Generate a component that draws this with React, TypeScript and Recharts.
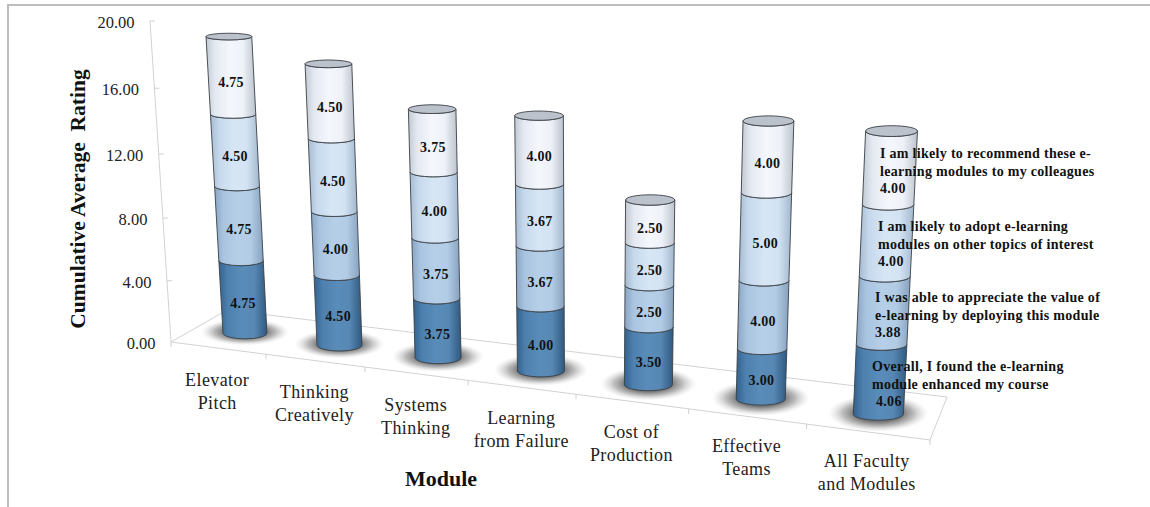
import React from "react";
import { BarChart, Bar, XAxis, YAxis } from "recharts";

const modules = [
  "Elevator\nPitch",
  "Thinking\nCreatively",
  "Systems\nThinking",
  "Learning\nfrom Failure",
  "Cost of\nProduction",
  "Effective\nTeams",
  "All Faculty\nand Modules",
];

const enhanced = [4.75, 4.5, 3.75, 4.0, 3.5, 3.0, 4.06];
const appreciate = [4.75, 4.0, 3.75, 3.67, 2.5, 4.0, 3.88];
const adopt = [4.5, 4.5, 4.0, 3.67, 2.5, 5.0, 4.0];
const recommend = [4.75, 4.5, 3.75, 4.0, 2.5, 4.0, 4.0];

const yTicks = [0, 4, 8, 12, 16, 20];

const seriesKeys = ["enhanced", "appreciate", "adopt", "recommend"];
const seriesValues = [enhanced, appreciate, adopt, recommend];

const statements = [
  ["Overall, I found the e-learning", "module enhanced my course"],
  ["I was able to appreciate the value of", "e-learning by deploying this module"],
  ["I am likely to adopt e-learning", "modules on other topics of interest"],
  ["I am likely to recommend these e-", "learning modules to my colleagues"],
];

const chartData = modules.map((module, i) => ({
  module,
  enhanced: enhanced[i],
  appreciate: appreciate[i],
  adopt: adopt[i],
  recommend: recommend[i],
}));

const WIDTH = 1150;
const HEIGHT = 507;
const SERIF = "'Liberation Serif', serif";

// flat plot rectangle Recharts lays the scales out in
const PLOT = { left: 100, right: 1050, top: 50, bottom: 457 };
const PLOT_W = PLOT.right - PLOT.left;
const PLOT_H = PLOT.bottom - PLOT.top;

// homography coefficients: flat plot -> tilted plane through the cylinder axes
const H = { a: 606.8, b: -27.8, c: 199, d: 35.1, e: -314.6, f: 327, g: -0.1419, h: -0.0473 };

function project(px: number, py: number) {
  const u = (px - PLOT.left) / PLOT_W;
  const v = (PLOT.bottom - py) / PLOT_H;
  const w = H.g * u + H.h * v + 1;
  return {
    x: (H.a * u + H.b * v + H.c) / w,
    y: (H.d * u + H.e * v + H.f) / w,
    u,
    v,
  };
}

// the value axis stands on its own wall, slightly foreshortened
function axisPoint(f: number) {
  const s = f / (f + (1 - f) * 1.06);
  return { x: 171 - 21 * s, y: 342 - 321 * s };
}

// floor corners
const FLOOR = { fl: [171, 342], fr: [930, 440], br: [947, 397], bl: [227, 310] };

function frontEdgePoint(u: number) {
  const W = 1 + H.g;
  const s = (u * W) / (1 - u + u * W);
  return {
    x: FLOOR.fl[0] + (FLOOR.fr[0] - FLOOR.fl[0]) * s,
    y: FLOOR.fl[1] + (FLOOR.fr[1] - FLOOR.fl[1]) * s,
  };
}

const halfWidth = (u: number, v: number) => (21.7 + 3.6 * u) * (1 + 0.045 * v);
const rimHeight = (u: number, v: number) => 6 + (3 + 2.4 * u - 6) * v;

// where the long statements of the last column start
const statementAnchors = [
  { x: 872, y: 371, valueX: 876 },
  { x: 875, y: 302, valueX: 875 },
  { x: 878, y: 231, valueX: 878 },
  { x: 880, y: 158, valueX: 880 },
];

function CylinderBand(props: any) {
  const { x, y, width, height, index, series } = props;
  const cx = x + width / 2;
  const bottom = project(cx, y + height);
  const top = project(cx, y);
  const hwB = halfWidth(bottom.u, bottom.v);
  const hwT = halfWidth(top.u, top.v);
  const ryB = rimHeight(bottom.u, bottom.v);
  const ryT = rimHeight(top.u, top.v);
  const d = [
    `M${top.x - hwT} ${top.y}`,
    `A${hwT} ${ryT} 0 0 0 ${top.x + hwT} ${top.y}`,
    `L${bottom.x + hwB} ${bottom.y}`,
    `A${hwB} ${ryB} 0 0 1 ${bottom.x - hwB} ${bottom.y}`,
    "Z",
  ].join(" ");
  const value = seriesValues[series][index];
  const mid = project(cx, y + height / 2);
  const isLast = index === modules.length - 1;
  const anchor = statementAnchors[series];
  const shadowRx = hwB * 2;
  const shadowRy = 13 + bottom.u * 6;

  return (
    <g>
      {series === 0 && (
        <ellipse cx={bottom.x} cy={bottom.y - 1} rx={shadowRx} ry={shadowRy} fill="url(#floorShadow)" />
      )}
      <path d={d} fill={`url(#band${series})`} stroke="#3a3f45" strokeWidth={0.9} />
      {series === seriesKeys.length - 1 && (
        <ellipse cx={top.x} cy={top.y} rx={hwT} ry={ryT} fill="#bcc2cb" stroke="#3a3f45" strokeWidth={0.9} />
      )}
      {isLast ? (
        <g fontFamily={SERIF} fontWeight="bold" fontSize={14} letterSpacing={0.3} fill="#111">
          {statements[series].map((line, k) => (
            <text key={k} x={anchor.x} y={anchor.y + k * 17.5}>
              {line}
            </text>
          ))}
          <text x={anchor.valueX} y={anchor.y + 35}>
            {value.toFixed(2)}
          </text>
        </g>
      ) : (
        <text
          x={mid.x}
          y={mid.y + 11}
          textAnchor="middle"
          fontFamily={SERIF}
          fontWeight="bold"
          fontSize={14}
          letterSpacing={0.3}
          fill="#111"
        >
          {value.toFixed(2)}
        </text>
      )}
    </g>
  );
}

function ModuleTick(props: any) {
  const { x, payload } = props;
  const base = project(x, PLOT.bottom);
  const bandwidth = PLOT_W / modules.length;
  const stub = frontEdgePoint((x + bandwidth / 2 - PLOT.left) / PLOT_W);
  const labelX = base.x - 29 + 19 * base.u;
  const labelY = base.y + 53;
  return (
    <g>
      <line x1={stub.x} y1={stub.y} x2={stub.x} y2={stub.y + 5} stroke="#cfcfcf" />
      {String(payload.value)
        .split("\n")
        .map((line, k) => (
          <text
            key={k}
            x={labelX}
            y={labelY + k * 23}
            textAnchor="middle"
            fontFamily={SERIF}
            fontSize={18}
            letterSpacing={0.4}
            fill="#222"
          >
            {line}
          </text>
        ))}
    </g>
  );
}

function RatingTick(props: any) {
  const { y, payload } = props;
  const p = axisPoint((PLOT.bottom - y) / PLOT_H);
  return (
    <g>
      {payload.value !== 0 && <line x1={p.x} y1={p.y} x2={p.x + 5} y2={p.y} stroke="#cfcfcf" />}
      <text x={p.x - 15.5} y={p.y + 7} textAnchor="end" fontFamily={SERIF} fontSize={16.5} fill="#222">
        {payload.value.toFixed(2)}
      </text>
    </g>
  );
}

const bandStops = [
  ["#33618d", "#4d80ae", "#5a8cb9", "#5788b4", "#30597f"],
  ["#8ba6c4", "#a9c4e0", "#b6cfe8", "#b3cce5", "#87a2bf"],
  ["#a6bcd3", "#c6d9ec", "#d6e6f5", "#d3e3f3", "#a3b8ce"],
  ["#c2c9d3", "#e4e9f1", "#f4f7fc", "#eef2f8", "#bcc3cd"],
];
const stopOffsets = ["0%", "18%", "48%", "74%", "100%"];

export default function App() {
  return (
    <div style={{ position: "absolute", left: 0, top: 0, width: WIDTH, height: HEIGHT, background: "#fff" }}>
      <BarChart
        width={WIDTH}
        height={HEIGHT}
        data={chartData}
        margin={{ top: PLOT.top, right: WIDTH - PLOT.right, bottom: 20, left: 40 }}
      >
        <defs>
          {bandStops.map((stops, s) => (
            <linearGradient key={s} id={`band${s}`} x1="0" y1="0" x2="1" y2="0">
              {stops.map((color, k) => (
                <stop key={k} offset={stopOffsets[k]} stopColor={color} />
              ))}
            </linearGradient>
          ))}
          <radialGradient id="floorShadow">
            <stop offset="0%" stopColor="#555" stopOpacity={0.9} />
            <stop offset="48%" stopColor="#606060" stopOpacity={0.85} />
            <stop offset="70%" stopColor="#8c8c8c" stopOpacity={0.6} />
            <stop offset="100%" stopColor="#ccc" stopOpacity={0} />
          </radialGradient>
        </defs>

        {/* page frame, floor and value-axis wall */}
        <g fill="none">
          <path d={`M8 507 L8 5 L${WIDTH} 5`} stroke="#bdbdbd" strokeWidth={2} />
          <polygon
            points={[FLOOR.fl, FLOOR.bl, FLOOR.br, FLOOR.fr].map((p) => p.join(",")).join(" ")}
            stroke="#d2d2d2"
          />
          <line x1={FLOOR.fl[0]} y1={FLOOR.fl[1]} x2={FLOOR.fl[0]} y2={FLOOR.fl[1] + 5} stroke="#cfcfcf" />
          <line
            x1={axisPoint(0).x}
            y1={axisPoint(0).y}
            x2={axisPoint(1).x}
            y2={axisPoint(1).y}
            stroke="#d2d2d2"
          />
        </g>

        <XAxis
          dataKey="module"
          height={30}
          axisLine={false}
          tickLine={false}
          interval={0}
          tick={<ModuleTick />}
        />
        <YAxis
          width={60}
          domain={[0, 20]}
          ticks={yTicks}
          axisLine={false}
          tickLine={false}
          tick={<RatingTick />}
        />

        {seriesKeys.map((key, s) => (
          <Bar
            key={key}
            dataKey={key}
            stackId="rating"
            isAnimationActive={false}
            shape={(p: any) => <CylinderBand {...p} series={s} />}
          />
        ))}

        <text
          transform="translate(85 199) rotate(-90)"
          textAnchor="middle"
          fontFamily={SERIF}
          fontWeight="bold"
          fontSize={21.5}
          fill="#111"
          style={{ whiteSpace: "pre" }}
        >
          {"Cumulative Average  Rating"}
        </text>
        <text x={441} y={486} textAnchor="middle" fontFamily={SERIF} fontWeight="bold" fontSize={22} fill="#111">
          Module
        </text>
      </BarChart>
    </div>
  );
}
